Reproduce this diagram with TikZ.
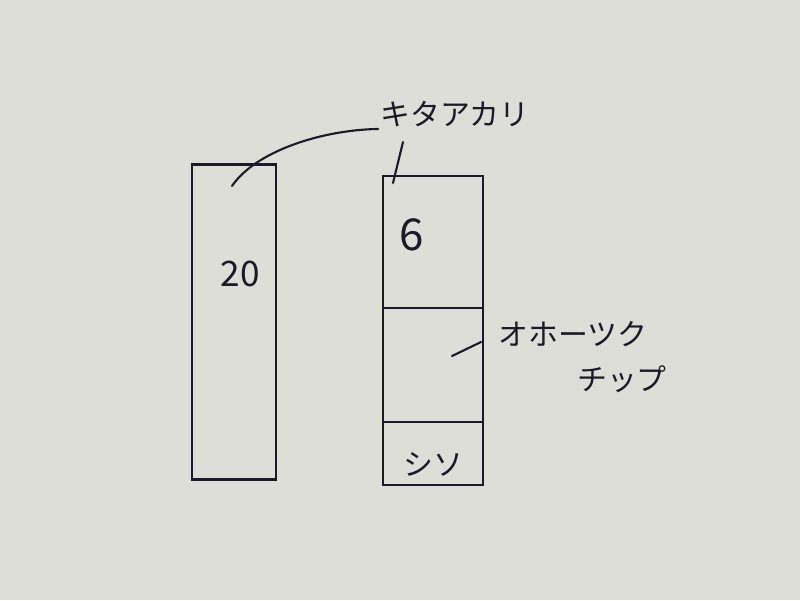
\documentclass[tikz,border=0pt]{standalone}
\usepackage{fontspec}
\setmainfont{Noto Sans CJK JP}
\usepackage{tikz}
\usetikzlibrary{positioning}

\definecolor{paper}{RGB}{221,222,216}
\definecolor{ink}{RGB}{28,26,38}

\tikzset{
  col/.style={draw=ink, line width=1.2pt, minimum width=#1, inner sep=0pt, outer sep=0pt},
  lbl/.style={text=ink, font=\fontsize{17}{20}\selectfont, inner sep=1pt},
  lead/.style={draw=ink, line width=1.2pt, line cap=round},
}

\begin{document}
\begin{tikzpicture}[x=0.02cm,y=-0.02cm]
   \fill[paper] (0,0) rectangle (800,600);
   \useasboundingbox (0,0) rectangle (800,600);

   % columns
   \node[col=1.68cm, minimum height=6.3cm]  (L) at (234,322) {} ; %
   \node[col=2cm, minimum height=2.64cm]    (T) at (433,242) {} ; %
   \node[col=2cm, minimum height=2.28cm, below=0pt of T] (M) {} ; %
   \node[col=2cm, minimum height=1.26cm, below=0pt of M] (B) {} ; %

   % texts
   \node[lbl, font=\fontsize{20}{24}\selectfont] (n20) at (240,274) {20} ; %
   \node[lbl, font=\fontsize{25}{30}\selectfont] (n6) at (412,235) {6} ; %
   \node[lbl]                  (shiso) at (433,464) {シソ} ; %
   \node[lbl]                  (kita) at (455,114) {キタアカリ} ; %
   \node[lbl]                  (oho)  at (573,334) {オホーツク} ; %
   \node[lbl]                  (chip) at (622,379) {チップ} ; %

   % leaders
   \coordinate (kL) at (232,186) ; %
   \coordinate (kT) at (393,183) ; %
   \coordinate (kT0) at (403,142) ; %
   \coordinate (oM) at (452,356) ; %
   \coordinate (oM0) at (481,342) ; %

   \draw[lead] (kita.south west) .. controls (320,130) and (255,152) .. (kL) ;
   \draw[lead] (kT0) -- (kT) ;
   \draw[lead] (oM0) -- (oM) ;

\end{tikzpicture}
\end{document}
